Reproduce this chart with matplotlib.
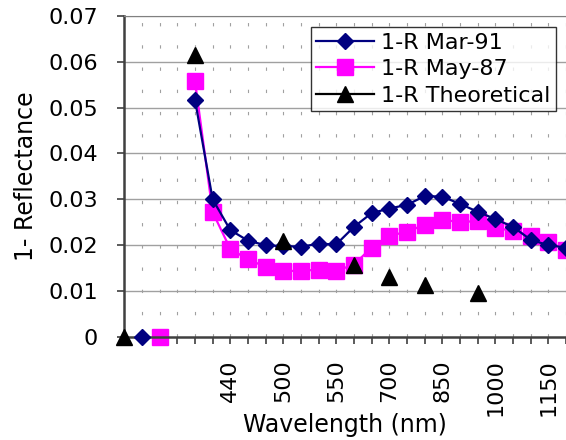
import numpy as np
import matplotlib
matplotlib.use('Agg')
import matplotlib.pyplot as plt

nan = np.nan
# category positions 0..25; only some carry a wavelength label
tick_pos = [6, 9, 12, 15, 18, 21, 24]
tick_labels = ['440', '500', '550', '700', '850', '1000', '1150']

mar91 = [nan, 0, nan, nan, 0.0517, 0.0300, 0.0233, 0.0210, 0.0200, 0.0198,
         0.0197, 0.0203, 0.0202, 0.0240, 0.0270, 0.0280, 0.0288, 0.0307,
         0.0306, 0.0290, 0.0273, 0.0257, 0.0240, 0.0212, 0.0200, 0.0195]
may87 = [nan, nan, 0, nan, 0.0558, 0.0272, 0.0192, 0.0169, 0.0153, 0.0144,
         0.0144, 0.0147, 0.0144, 0.0158, 0.0195, 0.0221, 0.0229, 0.0245,
         0.0256, 0.0250, 0.0253, 0.0237, 0.0232, 0.0220, 0.0207, 0.0190]
theo = [0, nan, nan, nan, 0.0614, nan, nan, nan, nan, 0.0210,
        nan, nan, nan, 0.0158, nan, 0.0131, nan, 0.0113, nan, nan,
        0.0097, nan, nan, nan, nan, nan]

x = np.arange(len(mar91))

plt.rcParams['font.family'] = 'DejaVu Sans'
fig = plt.figure(figsize=(5.66, 4.40), dpi=100)
ax = fig.add_axes([0.2196, 0.234, 0.7804, 0.7303])

# gridlines
for yv in np.arange(0.01, 0.071, 0.01):
    ax.axhline(yv, color='#a0a0a0', lw=1.0, zorder=0)
for xv in x[1:]:
    ax.axvline(xv, color='#a0a0a0', lw=0.8, ls=(0, (3, 17)), zorder=0)

ax.plot(x, mar91, color='#000080', lw=1.6, marker='D', ms=8,
        label='1-R Mar-91', clip_on=False, zorder=3)
ax.plot(x, may87, color='#ff00ff', lw=1.6, marker='s', ms=11,
        label='1-R May-87', clip_on=False, zorder=2)
ax.plot(x, theo, color='black', lw=1.6, marker='^', ms=11,
        label='1-R Theoretical', clip_on=False, zorder=4)

ax.set_xlim(0, 24.84)
ax.set_ylim(0, 0.07)
ax.set_yticks(np.arange(0, 0.071, 0.01))
ax.set_yticklabels(['0', '0.01', '0.02', '0.03', '0.04', '0.05', '0.06', '0.07'],
                   fontsize=16)
ax.set_xticks(x)
ax.set_xticklabels(['' if i not in tick_pos else tick_labels[tick_pos.index(i)]
                    for i in x], rotation=90, fontsize=16)
ax.tick_params(axis='both', direction='out', length=5, width=1.2,
               color='#404040')
ax.tick_params(axis='y', pad=14)
ax.tick_params(axis='x', pad=11)

ax.spines['right'].set_visible(False)
ax.spines['top'].set_color('#808080')
ax.spines['left'].set_color('#404040')
ax.spines['left'].set_linewidth(1.8)
ax.spines['bottom'].set_color('#404040')
ax.spines['bottom'].set_linewidth(1.8)

ax.set_xlabel('Wavelength (nm)', fontsize=17, labelpad=-2)
ax.set_ylabel('1- Reflectance', fontsize=17, labelpad=7)

leg = ax.legend(loc='upper right', fontsize=16, frameon=True, fancybox=False,
                edgecolor='black', handlelength=2.6, borderpad=0.25,
                labelspacing=0.3, handletextpad=0.3, borderaxespad=0,
                bbox_to_anchor=(0.977, 0.965))
leg.get_frame().set_linewidth(1.0)

fig.savefig('out.png', dpi=100)
